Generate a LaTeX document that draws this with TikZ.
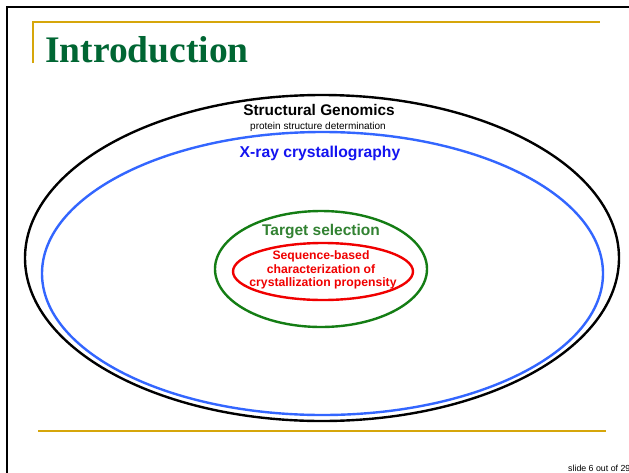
\documentclass[tikz,border=0pt]{standalone}
\usepackage{fontspec}
\setmainfont{Liberation Sans}
\newfontfamily\titlefont{Liberation Serif}
\definecolor{gold}{RGB}{214,166,10}
\definecolor{titlegreen}{RGB}{0,102,51}
\definecolor{tgreen}{RGB}{50,130,50}
\definecolor{egreen}{RGB}{20,125,20}
\definecolor{xblue}{RGB}{20,20,240}
\definecolor{eblue}{RGB}{51,102,255}
\definecolor{ered}{RGB}{240,0,0}
\tikzset{
  lbl/.style={inner sep=0pt, anchor=base, font=\bfseries},
  ring/.style={line width=2.4pt}
}
\begin{document}
\begin{tikzpicture}[x=1pt,y=-1pt]
\useasboundingbox (0,0) rectangle (629,472);
\clip (0,0) rectangle (629,472);
\fill[white] (0,0) rectangle (629,472);
% slide frame
\draw[line width=2pt] (7,480) -- (7,7) -- (640,7);
% title rule
\draw[gold, line width=1.3pt] (33,63) -- (33,22) -- (600,22);
\node[inner sep=0pt, anchor=base west, text=titlegreen, font=\titlefont\bfseries\fontsize{37.5}{37.5}\selectfont] (title) at (45,62) {Introduction};
% bottom rule
\draw[gold, line width=2pt] (38,431) -- (606,431);
\node[inner sep=0pt, anchor=base west, font=\fontsize{8.8}{8.8}\selectfont] (slide) at (568,471) {slide 6 out of 29};
% ellipses
\draw[ring, black] (322,258) ellipse [x radius=297, y radius=163];
\draw[ring, eblue] (322.5,273.5) ellipse [x radius=280.5, y radius=141.5];
\draw[ring, egreen] (321,269) ellipse [x radius=106, y radius=58];
\draw[ring, ered] (323,271.5) ellipse [x radius=90, y radius=28.5];
% labels
\node[lbl, font=\bfseries\fontsize{15.4}{15.4}\selectfont] (sg) at (319,115) {Structural Genomics};
\node[inner sep=0pt, anchor=base, font=\fontsize{10}{10}\selectfont] (psd) at (318,129) {protein structure determination};
\node[lbl, text=xblue, font=\bfseries\fontsize{15.7}{15.7}\selectfont] (xray) at (320,157) {X-ray crystallography};
\node[lbl, text=tgreen, font=\bfseries\fontsize{15.5}{15.5}\selectfont] (ts) at (321,235) {Target selection};
\node[lbl, text=ered, font=\bfseries\fontsize{12.2}{12.2}\selectfont] (s1) at (321,259) {Sequence-based};
\node[lbl, text=ered, font=\bfseries\fontsize{12.2}{12.2}\selectfont] (s2) at (321,273) {characterization of};
\node[lbl, text=ered, font=\bfseries\fontsize{12.2}{12.2}\selectfont] (s3) at (323,286) {crystallization propensity};
\end{tikzpicture}
\end{document}
